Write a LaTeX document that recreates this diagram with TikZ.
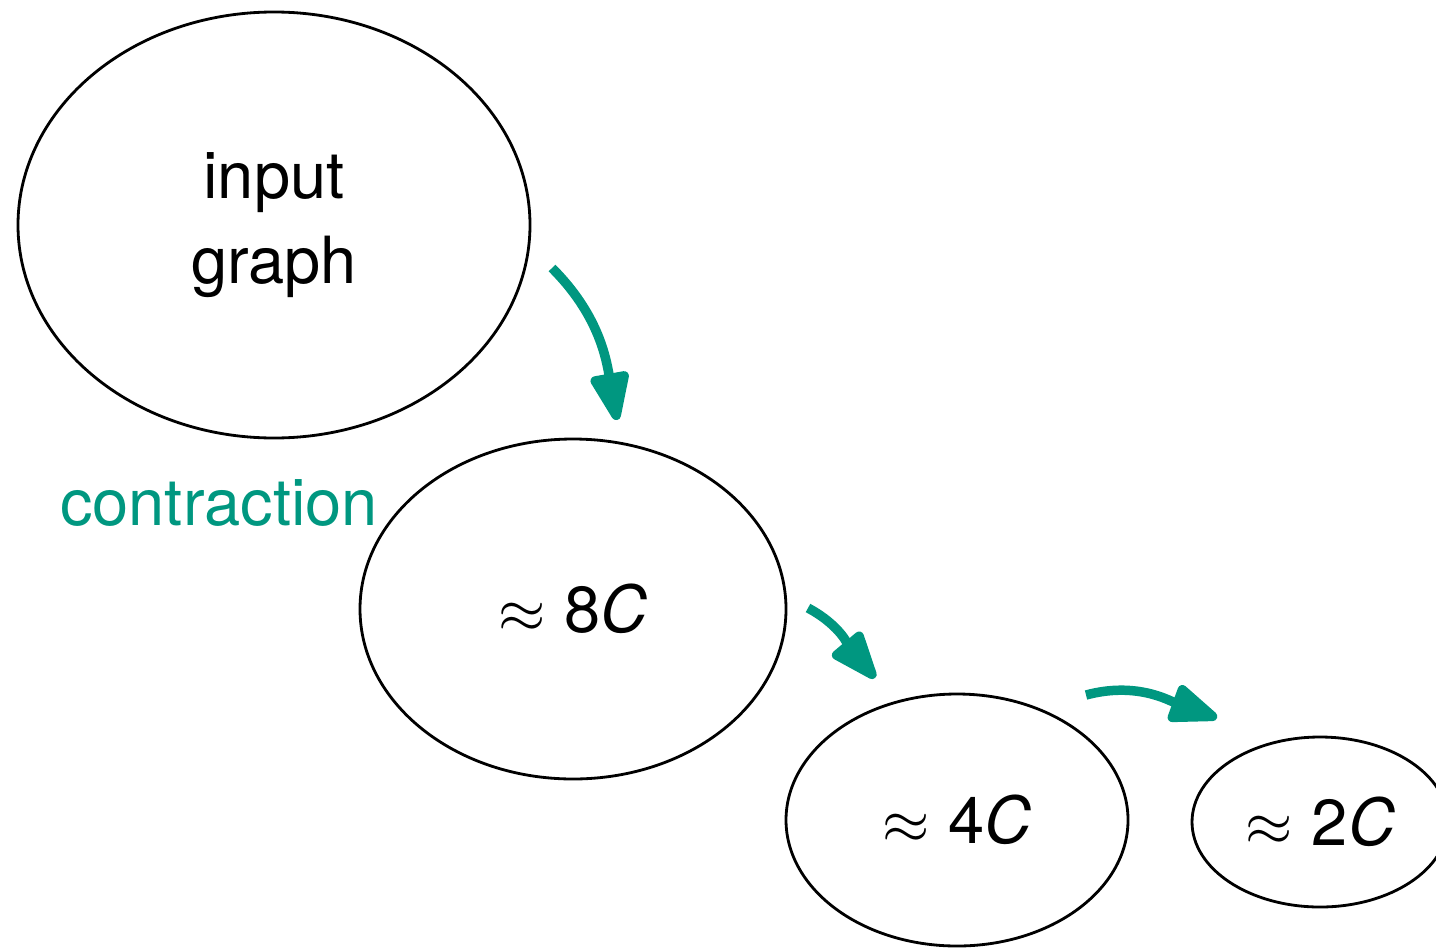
\documentclass[tikz,border=0pt]{standalone}
\usepackage{fontspec}
\setmainfont{TeX Gyre Heros}
\usetikzlibrary{shapes.geometric,arrows.meta}
\definecolor{contr}{RGB}{0,151,128}
\tikzset{
  blob/.style={draw,ellipse,line width=0.8pt,inner sep=0pt},
  shrink/.style={draw=contr,line width=2.7pt,-{Triangle[length=16pt,width=11.5pt,round]}}
}
\begin{document}
\begin{tikzpicture}[font=\fontsize{18.5}{24}\selectfont]
    \clip (0,0) rectangle (14.36,-9.47);% page size
    \node[blob,minimum width=5.12cm,minimum height=4.26cm,align=center] (graph) at (2.74,-2.25) {input\\graph};
    \node[blob,minimum width=4.26cm,minimum height=3.40cm] (c8) at (5.73,-6.09) {$\approx$\hspace{0.3em}8\textit{C}};
    \node[blob,minimum width=3.42cm,minimum height=2.52cm] (c4) at (9.57,-8.20) {$\approx$\hspace{0.3em}4\textit{C}};
    \node[blob,minimum width=2.56cm,minimum height=1.70cm] (c2) at (13.20,-8.22) {$\approx$\hspace{0.3em}2\textit{C}};
    \node[text=contr] (lbl) at (2.19,-5.03) {contraction};% label the steps
    % arrow ends
    \coordinate (s1) at (5.52,-2.68);
    \coordinate (e1) at (6.17,-4.20);
    \coordinate (s2) at (8.08,-6.08);
    \coordinate (e2) at (8.75,-6.78);
    \coordinate (s3) at (10.86,-6.95);
    \coordinate (e3) at (12.17,-7.18);
    \draw[shrink] (s1) to[out=-45,in=100] (e1);
    \draw[shrink] (s2) to[out=-28,in=130] (e2);
    \draw[shrink] (s3) to[out=15,in=160] (e3);
\end{tikzpicture}
\end{document}
